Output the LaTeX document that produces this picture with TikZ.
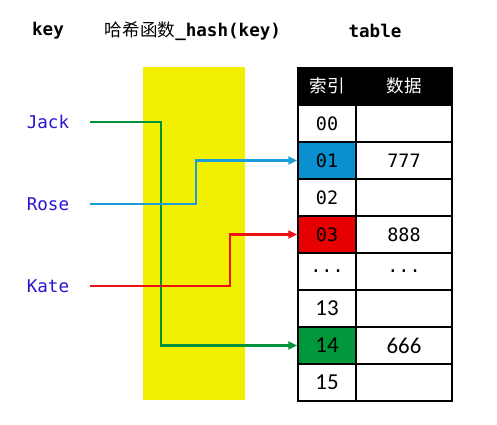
\documentclass[tikz,border=0pt]{standalone}
\usepackage{fontspec}
\setmonofont{DejaVu Sans Mono}
\newfontfamily\cjk{Noto Sans CJK SC}
\newfontfamily\calfont{Carlito}
\usepackage{tikz}
\usetikzlibrary{positioning, arrows.meta, calc}
\usepackage{xcolor}
\definecolor{keyblue}{HTML}{2A14D2}
\definecolor{hashyellow}{HTML}{F0F000}
\definecolor{cellblue}{HTML}{0A8FD0}
\definecolor{cellred}{HTML}{E60000}
\definecolor{cellgreen}{HTML}{00983A}
\definecolor{lineblue}{HTML}{1B9DDB}
\definecolor{linered}{HTML}{EE1111}
\definecolor{linegreen}{HTML}{00923C}

\begin{document}
\begin{tikzpicture}[
    x=0.02cm, y=-0.02cm,
    title/.style={font=\fontsize{10}{12}\selectfont\ttfamily\bfseries},
    keytext/.style={font=\fontsize{10}{12}\selectfont\ttfamily, text=keyblue},
    hashbox/.style={fill=hashyellow, minimum width=2.04cm, minimum height=6.66cm, inner sep=0pt},
    idxcell/.style={draw=black, line width=1pt, minimum width=1.16cm, minimum height=0.74cm, inner sep=0pt},
    valcell/.style={draw=black, line width=1pt, minimum width=1.92cm, minimum height=0.74cm, inner sep=0pt},
    headcell/.style={fill=black, text=white, font=\fontsize{10}{12}\selectfont\cjk},
    link/.style={-{Triangle[length=5pt, width=4.5pt]}, line width=1.5pt}
]
\useasboundingbox (0,0) rectangle (497,424);

% column titles
\node[title] (keyhead) at (48,31) {key};
\node[title] (hashhead) at (193,31) {{\cjk\mdseries 哈希函数}\_hash(key)};
\node[title] (tablehead) at (375,31) {table};

% hash function area
\node[hashbox] (hash) at (194,233.5) {};

% keys
\node[keytext] (jack) at (48,122) {Jack};
\node[keytext] (rose) at (48,204) {Rose};
\node[keytext] (kate) at (48,286) {Kate};

% table header
\node[idxcell, headcell] (hidx) at (327,86) {索引};
\node[valcell, headcell] (hval) at (404,86) {数据};

% table rows: index / data / fill / font
\foreach \idx/\val/\fillc/\fnt [count=\r] in {
    00//white/\fontsize{10.5}{12}\selectfont\ttfamily,
    01/777/cellblue/\fontsize{10.5}{12}\selectfont\ttfamily,
    02//white/\fontsize{10.5}{12}\selectfont\ttfamily,
    03/888/cellred/\fontsize{10.5}{12}\selectfont\ttfamily,
    {...}/{...}/white/\fontsize{10.5}{12}\selectfont\ttfamily,
    13//white/\fontsize{13}{14}\selectfont\calfont,
    14/666/cellgreen/\fontsize{13}{14}\selectfont\calfont,
    15//white/\fontsize{13}{14}\selectfont\calfont}{
  \node[idxcell, fill=\fillc, font=\fnt] (c\r) at (327,{105+37*(\r-0.5)}) {\idx};
  \node[valcell, font=\fnt] (d\r) at (404,{105+37*(\r-0.5)}) {\val};
}

% bends inside the hash area
\coordinate (jbend) at (161,122);
\coordinate (rbend) at (196,204);
\coordinate (kbend) at (230,286);

% mappings key -> slot
\draw[link, linegreen] ([xshift=3mm]jack.east) -- (jbend) |- (c7.west);
\draw[link, lineblue] ([xshift=3mm]rose.east) -- (rbend) |- (c2.west);
\draw[link, linered] ([xshift=3mm]kate.east) -- (kbend) |- (c4.west);

\end{tikzpicture}
\end{document}
